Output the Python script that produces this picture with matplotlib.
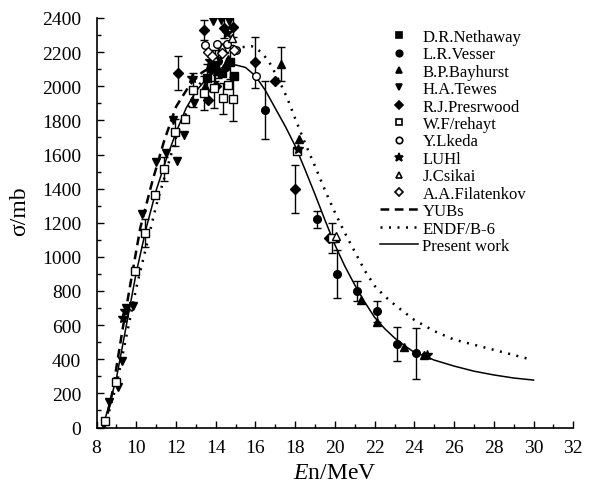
import numpy as np
import matplotlib
matplotlib.use("Agg")
import matplotlib.pyplot as plt
from matplotlib.lines import Line2D
from matplotlib.ticker import MultipleLocator

plt.rcParams['font.family'] = ['Liberation Serif', 'DejaVu Serif']
plt.rcParams['mathtext.fontset'] = 'custom'
plt.rcParams['mathtext.rm'] = 'Liberation Serif'
plt.rcParams['mathtext.it'] = 'Liberation Serif:italic'

# ---- evaluated / calculated curves (E in MeV, sigma in mb) ----
present_E = [8.3, 8.6, 9.0, 9.5, 10.0, 10.5, 11.0, 11.5, 12.0, 12.5, 13.0, 13.5, 14.0,
             14.5, 15.0, 15.5, 16.0, 16.5, 17.0, 17.5, 18.0, 18.5, 19.0, 19.5, 20.0,
             20.5, 21.0, 21.5, 22.0, 22.5, 23.0, 23.5, 24.0, 24.5, 25.0, 26.0, 27.0,
             28.0, 29.0, 30.0]
present_S = [0, 120, 290, 600, 910, 1170, 1390, 1570, 1730, 1870, 1970, 2040, 2090,
             2120, 2125, 2110, 2060, 1975, 1870, 1765, 1650, 1510, 1365, 1215, 1070,
             945, 835, 735, 645, 580, 525, 480, 440, 420, 395, 360, 330,
             308, 290, 278]

yubs_E = [8.4, 8.8, 9.3, 9.7, 10.2, 10.8, 11.4, 12.0, 12.7, 13.3, 14.0, 14.6]
yubs_S = [0, 210, 570, 840, 1170, 1440, 1680, 1880, 2010, 2080, 2130, 2150]

endf_E = [8.4, 9.0, 10.0, 11.0, 12.0, 13.0, 14.0, 15.0, 15.8, 16.3, 16.7, 17.2,
          17.6, 18.0, 18.5, 19.0, 19.5, 20.0, 20.5, 21.0, 21.5, 22.0, 22.5, 23.0,
          24.0, 25.0, 26.0, 27.0, 28.0, 29.0, 29.75]
endf_S = [0, 250, 820, 1300, 1700, 1980, 2150, 2225, 2235, 2200, 2140, 2030,
          1930, 1810, 1665, 1530, 1390, 1260, 1140, 1030, 920, 830, 770, 720,
          630, 565, 515, 485, 455, 425, 402]

# ---- measured data: energy, cross section, uncertainty (0 = no bar) ----
nethaway_E = [13.55, 13.95, 14.3, 14.7, 14.9]
nethaway_S = [2050, 2120, 2080, 2140, 2060]
nethaway_err = [80, 90, 0, 100, 0]

vesser_E = [13.7, 14.1, 14.5, 16.5, 19.1, 20.1, 21.1, 22.1, 23.1, 24.1]
vesser_S = [2100, 2150, 2110, 1860, 1220, 900, 800, 680, 490, 435]
vesser_err = [0, 100, 0, 170, 50, 140, 60, 60, 100, 150]

bayhurst_E = [13.45, 14.05, 14.6, 17.3, 18.2, 20.0, 21.3, 22.1, 23.5, 24.5]
bayhurst_S = [2000, 2090, 2160, 2130, 1690, 1110, 750, 620, 470, 425]
bayhurst_err = [0, 0, 0, 100, 0, 0, 0, 0, 0, 0]

tewes_E = [8.6, 9.1, 9.3, 9.5, 9.85, 10.3, 11.0, 11.5, 11.85, 12.05, 12.4, 12.9,
           13.85, 14.25, 14.65]
tewes_S = [150, 240, 390, 700, 715, 1250, 1555, 1610, 1800, 1560, 1715, 1900,
           2385, 2390, 2385]
tewes_err = [0, 0, 0, 0, 0, 0, 0, 0, 0, 0, 0, 0, 0, 0, 0]

presrwood_E = [12.1, 13.4, 13.6, 14.0, 14.4, 14.85, 16.0, 17.0, 18.0, 19.7]
presrwood_S = [2080, 2330, 1920, 2000, 2340, 2350, 2140, 2030, 1400, 1110]
presrwood_err = [100, 60, 0, 0, 60, 60, 150, 0, 140, 0]

rehayt_E = [8.4, 9.0, 9.95, 10.45, 10.95, 11.4, 11.95, 12.45, 12.85, 13.4, 13.9,
            14.35, 14.6, 14.85, 18.1, 19.85]
rehayt_S = [40, 265, 915, 1140, 1365, 1515, 1730, 1810, 1980, 1960, 1990,
            1930, 2010, 1925, 1620, 1110]
rehayt_err = [0, 0, 0, 80, 0, 70, 80, 0, 100, 100, 120, 90, 0, 130, 0, 90]

ikeda_E = [13.45, 14.05, 14.55, 15.0, 16.05]
ikeda_S = [2240, 2245, 2250, 2210, 2060]
ikeda_err = [0, 0, 0, 0, 0]

luhl_E = [9.35, 9.45, 12.8, 13.7, 14.55, 18.15, 24.65]
luhl_S = [640, 680, 2050, 2150, 2310, 1630, 425]
luhl_err = [0, 0, 0, 0, 0, 0, 0]

csikai_E = [13.9, 14.3, 14.8, 20.05]
csikai_S = [2170, 2230, 2280, 1120]
csikai_err = [0, 0, 0, 0]

filatenkov_E = [13.6, 13.8, 14.3, 14.9]
filatenkov_S = [2200, 2175, 2195, 2215]
filatenkov_err = [0, 0, 0, 0]

series = [
    ("D.R.Nethaway", nethaway_E, nethaway_S, nethaway_err, 's', 'black'),
    ("L.R.Vesser", vesser_E, vesser_S, vesser_err, 'o', 'black'),
    ("B.P.Bayhurst", bayhurst_E, bayhurst_S, bayhurst_err, '^', 'black'),
    ("H.A.Tewes", tewes_E, tewes_S, tewes_err, 'v', 'black'),
    ("R.J.Presrwood", presrwood_E, presrwood_S, presrwood_err, 'D', 'black'),
    ("W.F/rehayt", rehayt_E, rehayt_S, rehayt_err, 's', 'white'),
    ("Y.Lkeda", ikeda_E, ikeda_S, ikeda_err, 'o', 'white'),
    ("LUHl", luhl_E, luhl_S, luhl_err, '*', 'black'),
    ("J.Csikai", csikai_E, csikai_S, csikai_err, '^', 'white'),
    ("A.A.Filatenkov", filatenkov_E, filatenkov_S, filatenkov_err, 'D', 'white'),
]

W, H = 591, 489
fig = plt.figure(figsize=(W / 100, H / 100), dpi=100)
ax = fig.add_axes([96.6 / W, 1 - 428.5 / H, (573.3 - 96.6) / W, (428.5 - 19) / H])

ax.plot(present_E, present_S, '-', color='black', lw=1.1, zorder=2)
ax.plot(yubs_E, yubs_S, color='black', lw=1.8, dashes=(3.5, 2.2), zorder=2)
ax.plot(endf_E, endf_S, color='black', lw=1.8, dashes=(0.8, 2.6), zorder=2)

handles = []
for name, E, S, err, mk, fc in series:
    E = np.asarray(E, float)
    S = np.asarray(S, float)
    err = np.asarray(err, float)
    m = err > 0
    if m.any():
        ax.errorbar(E[m], S[m], yerr=err[m], fmt='none', ecolor='black',
                    elinewidth=1.0, capsize=2.8, capthick=1.0, zorder=3)
    ms = 7.5 if mk == '*' else (5.0 if mk == 'D' else 5.5)
    ax.plot(E, S, linestyle='none', marker=mk, markersize=ms,
            markerfacecolor=fc, markeredgecolor='black', markeredgewidth=1.0,
            zorder=4, clip_on=True)
    handles.append(Line2D([], [], linestyle='none', marker=mk, markersize=ms * 0.85,
                          markerfacecolor=fc, markeredgecolor='black',
                          markeredgewidth=1.2, label=name))

handles.append(Line2D([], [], color='black', lw=1.8, dashes=(3.5, 2.2), label='YUBs'))
handles.append(Line2D([], [], color='black', lw=1.8, dashes=(0.8, 2.6), label='ENDF/B-6'))
handles.append(Line2D([], [], color='black', lw=1.1, label='Present work'))

leg = ax.legend(handles=handles, loc='upper left',
                bbox_to_anchor=(380 / W, 1 - 30 / H), bbox_transform=fig.transFigure,
                frameon=False, fontsize=12, labelspacing=0.085, handlelength=2.3,
                handletextpad=0.25, borderpad=0, borderaxespad=0)

ax.set_xlim(8, 32)
ax.set_ylim(0, 2400)
ax.xaxis.set_major_locator(MultipleLocator(2))
ax.xaxis.set_minor_locator(MultipleLocator(1))
ax.yaxis.set_major_locator(MultipleLocator(200))
ax.yaxis.set_minor_locator(MultipleLocator(100))
ax.tick_params(which='both', direction='in', width=1.0, labelsize=14, top=False, right=False)
ax.tick_params(which='major', length=5)
ax.tick_params(which='minor', length=3)
ax.tick_params(axis='y', which='major', pad=11)
ax.tick_params(axis='x', which='major', pad=8)
for side in ('top', 'right'):
    ax.spines[side].set_visible(False)
for side in ('left', 'bottom'):
    ax.spines[side].set_linewidth(1.2)

ax.set_xlabel(r'$\mathit{E}$n/MeV', fontsize=17)
ax.set_ylabel('σ/mb', fontsize=17)
ax.xaxis.set_label_coords(0.5, -0.085)
ax.yaxis.set_label_coords(-0.14, 0.53)

fig.savefig('out.png', dpi=100)
